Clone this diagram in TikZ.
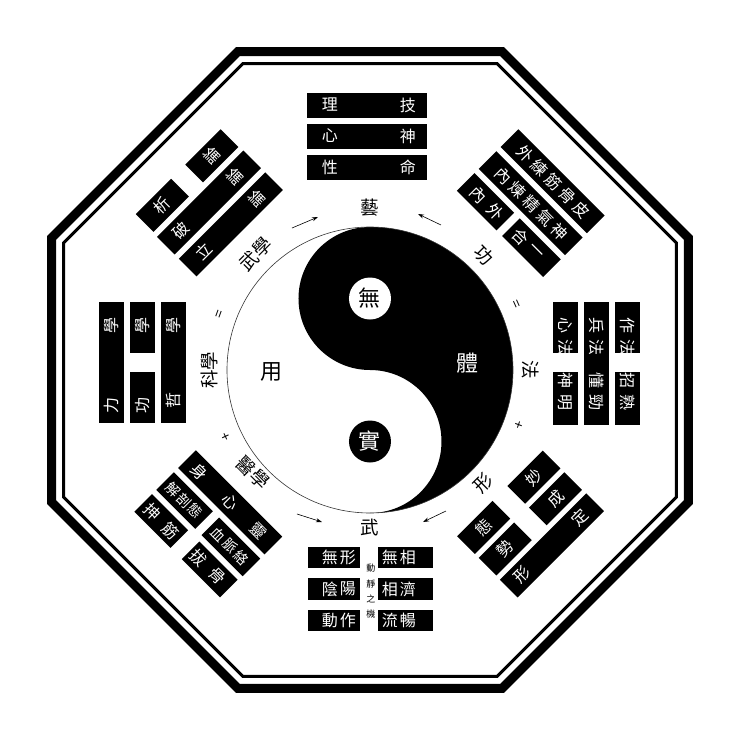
\documentclass[tikz,border=0pt]{standalone}
\usepackage{fontspec}
\newfontfamily\cjk{Noto Sans CJK TC}
\usetikzlibrary{arrows.meta}
\newcommand\seg[4]{\fill[black] (#1,#3-#4) rectangle (#2,#3+#4);}
\begin{document}
\begin{tikzpicture}[x=1pt,y=1pt,
  bt/.style={text=white, font=\cjk\fontsize{16}{16}\selectfont, inner sep=0pt},
  bts/.style={text=white, font=\cjk\fontsize{14}{14}\selectfont, inner sep=0pt},
  lab/.style={text=black, font=\cjk\fontsize{18.5}{18.5}\selectfont, inner sep=0pt},
  sym/.style={text=black, font=\cjk\fontsize{14}{14}\selectfont, inner sep=0pt},
  big/.style={font=\cjk\fontsize{22}{22}\selectfont, inner sep=0pt},
  tiny/.style={text=black, font=\cjk\fontsize{9}{9}\selectfont, inner sep=0pt},
  arr/.style={line width=0.6pt, -{Stealth[length=6pt,width=4pt]}},
  frameA/.style={line width=9pt, line join=miter},
  frameB/.style={line width=3pt, line join=miter}]
\useasboundingbox (-370,-370) rectangle (370,370);
% octagon frame
\draw[frameA] (22.5:344.74) foreach \a in {67.5,112.5,...,337.5}{ -- (\a:344.74)} -- cycle;
\draw[frameB] (22.5:331.75) foreach \a in {67.5,112.5,...,337.5}{ -- (\a:331.75)} -- cycle;
% yin yang
\fill[black] (0,143) arc[start angle=90, end angle=-90, radius=143]
  arc[start angle=-90, end angle=90, radius=71.5]
  arc[start angle=-90, end angle=-270, radius=71.5] -- cycle;
\draw[line width=0.6pt, black!80] (0,0) circle (143);
\fill[white] (0,71.5) circle (21);
\fill[black] (0,-71.5) circle (21);
\node[big, text=black] (wu) at (0,71.5) {無};
\node[big, text=white] (shi) at (0,-71.5) {實};
\node[big, text=black] (yong) at (-98,-2) {用};
\node[big, text=white] (ti) at (98,7) {體};
% ring labels
\node[lab] (yi) at (0,162) {藝};
\node[lab, rotate=-45] (gong) at (114,115) {功};
\node[sym, rotate=-66] (eq1) at (145,65) {=};
\node[lab, rotate=-90] (fa) at (161,0) {法};
\node[sym, rotate=70] (pl1) at (150,-55) {+};
\node[lab, rotate=45] (xing) at (113,-113) {形};
\node[lab] (wu2) at (0,-158) {武};
\node[lab, rotate=-45] (yixue) at (-117,-103) {醫學};
\node[sym, rotate=-65] (pl2) at (-145,-67) {+};
\node[lab, rotate=90] (kexue) at (-161,0) {科學};
\node[sym, rotate=70] (eq2) at (-150,55) {=};
\node[lab, rotate=45] (wuxue) at (-114,116) {武學};
% arrows
\coordinate (a1s) at (-78,142); \coordinate (a1e) at (-52,153);
\coordinate (a2s) at (71,145); \coordinate (a2e) at (48,156);
\coordinate (a3s) at (-73,-144); \coordinate (a3e) at (-48,-152);
\coordinate (a4s) at (76,-141); \coordinate (a4e) at (53,-152);
\draw[arr] (a1s) -- (a1e);
\draw[arr] (a2s) -- (a2e);
\draw[arr] (a3s) -- (a3e);
\draw[arr] (a4s) -- (a4e);
% ---- top group
\begin{scope}[shift={(-0.5,7)}]
\seg{-62}{58}{258}{12.5}\seg{-62}{58}{227}{12.5}\seg{-62}{58}{196}{12.5}
\node[bt] (t11) at (-39.5,258) {理}; \node[bt] (t12) at (38.5,258) {技};
\node[bt] (t21) at (-39.5,227) {心}; \node[bt] (t22) at (38.5,227) {神};
\node[bt] (t31) at (-39.5,196) {性}; \node[bt] (t32) at (38.5,196) {命};
\end{scope}
% ---- top right group
\begin{scope}[shift={(-0.5,7)}, rotate=-45, transform shape]
\seg{-60}{62}{258}{12.5}\seg{-60}{62}{227}{12.5}
\seg{-60}{-4}{196}{12.5}\seg{4}{62}{196}{12.5}
\foreach \v/\c [count=\i] in {-38/外,-18/練,2/筋,22/骨,42/皮} \node[bt] (tr1\i) at (\v,258) {\c};
\foreach \v/\c [count=\i] in {-38/內,-18/煉,2/精,22/氣,42/神} \node[bt] (tr2\i) at (\v,227) {\c};
\foreach \v/\c [count=\i] in {-42/內,-18/外,17/合,39/一} \node[bt] (tr3\i) at (\v,196) {\c};
\end{scope}
% ---- right group
\begin{scope}[shift={(-0.5,7)}, rotate=-90, transform shape]
\seg{-61}{-10}{258}{12.5}\seg{9}{62}{258}{12.5}
\seg{-61}{62}{227}{12.5}
\seg{-61}{-10}{196}{12.5}\seg{9}{62}{196}{12.5}
\foreach \v/\c [count=\i] in {-38/作,-16/法,17/招,39/熟} \node[bt] (r1\i) at (\v,258) {\c};
\foreach \v/\c [count=\i] in {-38/兵,-16/法,17/懂,39/勁} \node[bt] (r2\i) at (\v,227) {\c};
\foreach \v/\c [count=\i] in {-38/心,-16/法,17/神,39/明} \node[bt] (r3\i) at (\v,196) {\c};
\end{scope}
% ---- left group
\begin{scope}[shift={(-0.5,7)}, rotate=90, transform shape]
\seg{-60}{61}{258}{12.5}
\seg{-60}{-9}{227}{12.5}\seg{10}{61}{227}{12.5}
\seg{-60}{61}{196}{12.5}
\node[bt] (l11) at (-42,258) {力}; \node[bt] (l12) at (38,258) {學};
\node[bt] (l21) at (-42,227) {功}; \node[bt] (l22) at (38,227) {學};
\node[bt] (l31) at (-37,196) {哲}; \node[bt] (l32) at (38,196) {學};
\end{scope}
% ---- bottom group
\begin{scope}[shift={(-0.5,7)}]
\foreach \y in {-194.5,-226,-257.5} {\seg{-61.5}{-9.5}{\y}{10.75}\seg{8.5}{63.5}{\y}{10.75}}
\foreach \v/\c [count=\i] in {-39.5/無,-21.5/形,20.5/無,38.5/相} \node[bt] (b1\i) at (\v,-194.5) {\c};
\foreach \v/\c [count=\i] in {-39.5/陰,-21.5/陽,20.5/相,38.5/濟} \node[bt] (b2\i) at (\v,-226) {\c};
\foreach \v/\c [count=\i] in {-39.5/動,-21.5/作,20.5/流,38.5/暢} \node[bt] (b3\i) at (\v,-257.5) {\c};
\foreach \y/\c [count=\i] in {-205/動,-221/靜,-236/之,-251/機} \node[tiny] (bs\i) at (1.5,\y) {\c};
\end{scope}
% ---- bottom right group
\begin{scope}[shift={(-0.5,7)}, rotate=45, transform shape]
\seg{-60.5}{-10.5}{-197}{12.5}\seg{10.5}{60.5}{-197}{12.5}
\seg{-60.5}{-10.5}{-227.5}{12.5}\seg{10.5}{60.5}{-227.5}{12.5}
\seg{-61}{61}{-258}{12.5}
\node[bt] (br11) at (-35.5,-197) {態}; \node[bt] (br12) at (35.5,-197) {妙};
\node[bt] (br21) at (-35.5,-227.5) {勢}; \node[bt] (br22) at (35.5,-227.5) {成};
\node[bt] (br31) at (-42,-258) {形}; \node[bt] (br32) at (39,-258) {定};
\end{scope}
% ---- bottom left group
\begin{scope}[shift={(-0.5,7)}, rotate=-45, transform shape]
\seg{-61}{61}{-197}{12.5}
\seg{-61}{-6}{-228}{12.5}\seg{3}{61}{-228}{12.5}
\seg{-61}{-10}{-259}{12.5}\seg{6}{60}{-259}{12.5}
\foreach \v/\c [count=\i] in {-43/身,0/心,40/靈} \node[bt] (bl1\i) at (\v,-197) {\c};
\foreach \v/\c [count=\i] in {-49/解,-34/剖,-19/態,15/血,31/脈,47/絡} \node[bts] (bl2\i) at (\v,-228) {\c};
\foreach \v/\c [count=\i] in {-48/抻,-22/筋,17/拔,43/骨} \node[bt] (bl3\i) at (\v,-259) {\c};
\end{scope}
% ---- top left group
\begin{scope}[shift={(-0.5,7)}, rotate=45, transform shape]
\seg{-60}{-10}{258}{12.5}\seg{10}{60}{258}{12.5}
\seg{-61}{61}{227}{12.5}
\seg{-61}{61}{196}{12.5}
\node[bt] (tl11) at (-35,258) {析}; \node[bt] (tl12) at (35,258) {論};
\node[bt] (tl21) at (-40,227) {破}; \node[bt] (tl22) at (37,227) {論};
\node[bt] (tl31) at (-38,196) {立}; \node[bt] (tl32) at (37,196) {論};
\end{scope}
\end{tikzpicture}
\end{document}
